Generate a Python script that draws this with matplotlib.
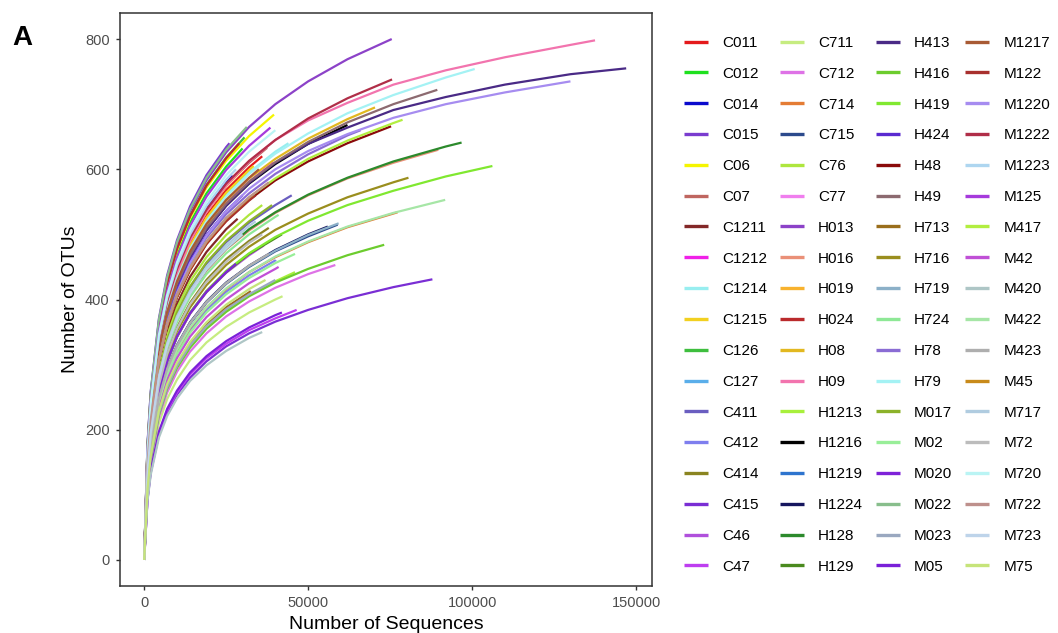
import matplotlib
matplotlib.use("Agg")
import matplotlib.pyplot as plt

plt.rcParams['font.family'] = ['Liberation Sans', 'DejaVu Sans']

# ---------------- data (read/estimated from the reference) ----------------
depth_grid = [0, 1000, 2000, 4500, 7000, 10000, 14000, 19000, 25000, 32000,
              40000, 50000, 62000, 76000, 92000, 110000, 130000]

samples = ["C011", "C012", "C014", "C015", "C06", "C07", "C1211", "C1212", "C1214",
           "C1215", "C126", "C127", "C411", "C412", "C414", "C415", "C46", "C47",
           "C711", "C712", "C714", "C715", "C76", "C77", "H013", "H016", "H019",
           "H024", "H08", "H09", "H1213", "H1216", "H1219", "H1224", "H128", "H129",
           "H413", "H416", "H419", "H424", "H48", "H49", "H713", "H716", "H719",
           "H724", "H78", "H79", "M017", "M02", "M020", "M022", "M023", "M05",
           "M1217", "M122", "M1220", "M1222", "M1223", "M125", "M417", "M42", "M420",
           "M422", "M423", "M45", "M717", "M72", "M720", "M722", "M723", "M75"]

sample_colors = ["#E41A1C", "#1EE01E", "#0A0ACD", "#7A3CCF", "#F5F500", "#BF6660",
                 "#832828", "#F020E8", "#98EEF0", "#F2D020", "#3EBE3E", "#5AAEEA",
                 "#6A5EC0", "#7E7EEE", "#8A8420", "#7A2ED4", "#B050DC", "#BE3EF0",
                 "#C6EC80", "#DE72E6", "#E47C34", "#2C4A8C", "#AEE63E", "#F07EEE",
                 "#8C42C8", "#EA9078", "#F8B22E", "#BA2A2C", "#E2B820", "#F274AE",
                 "#A8F03C", "#000000", "#2E74CE", "#16165E", "#2C8A2C", "#4A8A1E",
                 "#4A2A86", "#6CCC2E", "#80E830", "#5A2AD0", "#8A0A0A", "#8C6A70",
                 "#9A6E1C", "#9A8E1E", "#8CB0C8", "#8EE896", "#8A6CD4", "#A4F2F4",
                 "#8CB22A", "#98EE98", "#7E22D8", "#88BE8C", "#9AA8C0", "#7A20D8",
                 "#A85A34", "#A8302E", "#A68CF0", "#B02E48", "#AED6F0", "#A63ADC",
                 "#B2EE40", "#C050D6", "#AEC6C6", "#A6E6A6", "#AEAEAE", "#C88A1A",
                 "#B0CCE0", "#BCBCBC", "#BAF4F4", "#BE908C", "#BED4EA", "#C6E47A"]

final_depth = [36000, 30000, 27000, 26000, 39600, 37500, 28500, 39400, 44000,
               33400, 30600, 40000, 45000, 40100, 38000, 87900, 36500, 46500,
               42200, 58300, 77300, 59000, 36000, 32000, 75500, 89700, 30000,
               29000, 70400, 137500, 46000, 62000, 45000, 56000, 96800, 42000,
               147000, 73200, 106200, 30000, 75300, 89400, 32500, 80600, 59300,
               41000, 66000, 100800, 39000, 46000, 28000, 31300, 40000, 42000,
               35000, 34000, 130000, 75600, 28000, 38500, 78800, 41000, 36000,
               91800, 38000, 33000, 34000, 36000, 40000, 38000, 30000, 37000]

# OTU counts at the depth_grid points below each sample's final depth, then at the final depth
otu_curves = [
    [0, 159, 233, 333, 391, 440, 487, 529, 568, 603, 620],                       # C011
    [0, 169, 247, 354, 416, 468, 518, 563, 604, 632],                            # C012
    [0, 162, 237, 339, 399, 448, 496, 539, 579, 590],                            # C014
    [0, 177, 259, 371, 437, 491, 543, 591, 634, 640],                            # C015
    [0, 171, 251, 359, 422, 475, 525, 572, 613, 651, 684],                       # C06
    [0, 161, 235, 337, 396, 445, 492, 536, 575, 610, 633],                       # C07
    [0, 142, 208, 297, 350, 393, 435, 473, 508, 524],                            # C1211
    [0, 153, 224, 321, 377, 424, 469, 510, 548, 581, 610],                       # C1212
    [0, 157, 229, 328, 386, 434, 480, 522, 561, 595, 627, 640],                  # C1214
    [0, 158, 231, 330, 389, 437, 483, 526, 564, 599, 605],                       # C1215
    [0, 173, 253, 362, 425, 478, 529, 576, 618, 649],                            # C126
    [0, 146, 214, 307, 360, 405, 448, 488, 523, 556, 585],                       # C127
    [0, 136, 200, 286, 336, 378, 418, 455, 488, 518, 545, 560],                  # C411
    [0, 115, 169, 241, 284, 319, 353, 384, 412, 437, 460, 461],                  # C412
    [0, 129, 189, 270, 318, 357, 395, 430, 462, 490, 510],                       # C414
    [0, 92, 134, 192, 226, 254, 280, 305, 328, 348, 366, 384, 402, 419, 431],    # C415
    [0, 123, 181, 258, 304, 342, 378, 411, 441, 468, 483],                       # C46
    [0, 93, 136, 195, 229, 257, 285, 310, 332, 353, 371, 384],                   # C47
    [0, 100, 147, 210, 247, 277, 307, 334, 358, 380, 400, 405],                  # C711
    [0, 104, 153, 219, 257, 289, 320, 348, 374, 397, 418, 439, 453],             # C712
    [0, 116, 170, 244, 287, 322, 356, 388, 416, 442, 465, 488, 511, 532, 534],   # C714
    [0, 118, 173, 248, 292, 328, 363, 395, 424, 450, 474, 497, 515],             # C715
    [0, 140, 204, 292, 344, 387, 428, 465, 499, 530, 545],                       # C76
    [0, 124, 181, 259, 305, 343, 379, 413, 443, 470],                            # C77
    [0, 175, 256, 367, 431, 485, 536, 583, 626, 665, 700, 735, 769, 800],        # H013
    [0, 133, 195, 279, 328, 369, 408, 444, 477, 506, 533, 560, 586, 610, 630],   # H016
    [0, 160, 235, 336, 395, 444, 491, 535, 574, 600],                            # H019
    [0, 172, 252, 361, 425, 478, 528, 575, 617, 640],                            # H024
    [0, 154, 226, 323, 380, 427, 472, 514, 552, 586, 616, 647, 677, 695],        # H08
    [0, 160, 230, 330, 390, 440, 490, 535, 575, 612, 645, 675, 702, 730, 752, 772, 791, 798],  # H09
    [0, 107, 157, 225, 264, 297, 328, 357, 383, 407, 428, 442],                  # H1213
    [0, 152, 223, 319, 375, 421, 466, 507, 544, 578, 608, 639, 668],             # H1216
    [0, 146, 214, 306, 360, 405, 448, 487, 523, 555, 584, 600],                  # H1219
    [0, 119, 174, 249, 293, 330, 365, 397, 426, 452, 476, 500, 512],             # H1224
    [0, 134, 196, 280, 329, 370, 409, 446, 478, 508, 534, 561, 587, 612, 635, 641],  # H128
    [0, 124, 181, 259, 305, 343, 379, 412, 442, 470, 494, 500],                  # H129
    [0, 151, 218, 312, 369, 416, 464, 506, 544, 579, 610, 639, 664, 691, 711, 730, 746, 755],  # H413
    [0, 107, 156, 223, 263, 295, 326, 355, 381, 405, 426, 447, 468, 484],        # H416
    [0, 124, 181, 260, 305, 343, 380, 413, 444, 471, 496, 521, 545, 567, 589, 605],  # H419
    [0, 150, 219, 314, 369, 415, 459, 499, 536, 560],                            # H424
    [0, 146, 213, 305, 359, 404, 446, 486, 521, 553, 583, 612, 640, 666],        # H48
    [0, 153, 224, 320, 377, 424, 468, 510, 547, 581, 611, 642, 672, 700, 722],   # H49
    [0, 108, 159, 227, 267, 300, 332, 361, 388, 411, 413],                       # H713
    [0, 127, 186, 266, 312, 351, 388, 422, 453, 481, 507, 532, 557, 580, 587],   # H716
    [0, 119, 174, 249, 293, 329, 364, 396, 425, 451, 475, 499, 517],             # H719
    [0, 132, 193, 276, 325, 365, 404, 439, 471, 500, 527, 530],                  # H724
    [0, 148, 217, 311, 366, 411, 455, 495, 531, 563, 593, 623, 652, 660],        # H78
    [0, 156, 228, 327, 385, 432, 478, 520, 558, 593, 624, 655, 686, 714, 741, 754],  # H79
    [0, 137, 201, 287, 338, 380, 420, 457, 490, 520, 545],                       # M017
    [0, 114, 167, 239, 281, 316, 349, 380, 408, 433, 456, 470],                  # M02
    [0, 124, 181, 259, 305, 343, 379, 412, 442, 455],                            # M020
    [0, 176, 258, 369, 434, 488, 539, 587, 630, 665],                            # M022
    [0, 108, 157, 225, 265, 298, 330, 359, 385, 408, 430],                       # M023
    [0, 94, 138, 197, 232, 260, 288, 313, 336, 357, 376, 380],                   # M05
    [0, 155, 226, 324, 381, 428, 474, 516, 553, 587, 600],                       # M1217
    [0, 145, 213, 305, 358, 403, 445, 485, 520, 552, 560],                       # M122
    [0, 148, 214, 306, 362, 409, 456, 498, 536, 570, 600, 628, 654, 679, 700, 718, 735],  # M1220
    [0, 161, 236, 338, 398, 447, 495, 538, 578, 613, 645, 678, 709, 738],        # M1222
    [0, 163, 239, 342, 402, 452, 500, 544, 584, 600],                            # M1223
    [0, 167, 245, 351, 413, 464, 513, 558, 599, 636, 664],                       # M125
    [0, 147, 215, 307, 361, 406, 449, 489, 525, 557, 586, 616, 644, 671, 676],   # M417
    [0, 112, 164, 234, 276, 310, 343, 373, 400, 425, 447, 450],                  # M42
    [0, 90, 131, 188, 221, 248, 275, 299, 321, 341, 350],                        # M420
    [0, 116, 171, 244, 287, 323, 357, 388, 417, 442, 466, 489, 512, 533, 553],   # M422
    [0, 119, 174, 249, 293, 329, 364, 396, 425, 452, 470],                       # M423
    [0, 146, 214, 307, 361, 406, 448, 488, 524, 556, 560],                       # M45
    [0, 135, 198, 283, 333, 374, 413, 450, 483, 513, 520],                       # M717
    [0, 128, 188, 269, 316, 355, 393, 427, 458, 487, 500],                       # M72
    [0, 165, 242, 346, 407, 457, 506, 550, 591, 627, 660],                       # M720
    [0, 147, 215, 307, 362, 407, 449, 489, 525, 557, 580],                       # M722
    [0, 134, 196, 280, 329, 370, 409, 446, 478, 500],                            # M723
    [0, 109, 160, 229, 270, 303, 335, 365, 392, 416, 430],                       # M75
]

x_ticks = [0, 50000, 100000, 150000]
y_ticks = [0, 200, 400, 600, 800]

# ---------------- figure ----------------
W, H = 1058, 633
fig = plt.figure(figsize=(W / 100, H / 100), dpi=100)
ax = fig.add_axes([120 / W, 1 - 586 / H, 532 / W, 573 / H])

handles = []
for name, col, n_end, ys in zip(samples, sample_colors, final_depth, otu_curves):
    xs = [d for d in depth_grid if d < n_end] + [n_end]
    m = min(len(xs), len(ys))
    ln, = ax.plot(xs[:m], ys[:m], color=col, lw=1.6, label=name,
                  solid_capstyle='butt', solid_joinstyle='round')
    handles.append(ln)

ax.set_xlim(-7375, 154875)
ax.set_ylim(-40, 840)
ax.set_xticks(x_ticks)
ax.set_yticks(y_ticks)
ax.tick_params(direction='out', length=3, width=1, color='#333333',
               labelcolor='#4d4d4d', labelsize=10.5, pad=4.5)
for s in ax.spines.values():
    s.set_color('#333333')
    s.set_linewidth(1.1)

ax.set_xlabel('Number of Sequences', fontsize=14, labelpad=4)
ax.set_ylabel('Number of OTUs', fontsize=14, labelpad=4)

leg = fig.legend(handles, samples, loc='upper left',
                 bbox_to_anchor=(684 / W, 1 - 36 / H), ncol=4, frameon=False,
                 fontsize=11, handlelength=1.57, handletextpad=0.92,
                 columnspacing=0.85, labelspacing=1.1, borderpad=0,
                 borderaxespad=0)
for h in leg.get_lines():
    h.set_linewidth(2.4)

fig.text(12 / W, 1 - 38 / H, 'A', fontsize=20, fontweight='bold',
         ha='left', va='center')

fig.savefig('out.png', dpi=100)
